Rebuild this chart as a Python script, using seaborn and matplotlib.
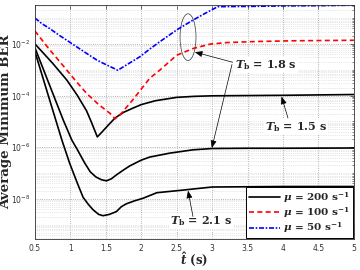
import numpy as np
import pandas as pd
import matplotlib
matplotlib.use("Agg")
import matplotlib.pyplot as plt
import seaborn as sns
from matplotlib.patches import Ellipse
from matplotlib.ticker import FixedLocator, LogLocator, NullFormatter, FuncFormatter

# ---- data (log10 of average minimum BER) ----
t_mu200_tb15 = [0.5, 0.75, 0.95, 1.1, 1.23, 1.3, 1.38, 1.45, 1.55, 1.63, 1.75, 1.88, 2.0, 2.2, 2.5, 2.75, 3.0, 3.5, 4.0, 5.0]
lg_mu200_tb15 = [-2.0, -2.75, -3.4, -4.0, -4.6, -5.05, -5.6, -5.4, -5.1, -4.87, -4.65, -4.49, -4.35, -4.2, -4.07, -4.03, -4.01, -4.0, -3.99, -3.96]

t_mu200_tb18 = [0.5, 0.7, 0.9, 1.02, 1.1, 1.2, 1.28, 1.36, 1.44, 1.51, 1.58, 1.65, 1.75, 1.84, 2.0, 2.12, 2.4, 2.73, 3.0, 3.5, 4.0, 5.0]
lg_mu200_tb18 = [-2.15, -3.55, -4.95, -5.72, -6.1, -6.6, -6.95, -7.15, -7.26, -7.30, -7.22, -7.07, -6.88, -6.72, -6.5, -6.38, -6.23, -6.1, -6.05, -6.04, -6.04, -6.03]

t_mu200_tb21 = [0.5, 0.7, 0.88, 0.99, 1.1, 1.18, 1.25, 1.32, 1.4, 1.46, 1.55, 1.65, 1.72, 1.79, 1.9, 2.03, 2.22, 2.55, 3.0, 3.5, 4.0, 5.0]
lg_mu200_tb21 = [-2.3, -4.1, -5.72, -6.62, -7.4, -7.94, -8.2, -8.42, -8.6, -8.65, -8.6, -8.49, -8.3, -8.19, -8.08, -7.97, -7.76, -7.67, -7.54, -7.53, -7.52, -7.52]

t_mu100 = [0.5, 0.7, 0.9, 1.05, 1.23, 1.4, 1.56, 1.63, 1.7, 1.88, 2.0, 2.12, 2.26, 2.5, 2.73, 2.97, 3.2, 3.6, 4.14, 5.0]
lg_mu100 = [-1.5, -2.2, -2.85, -3.35, -3.92, -4.35, -4.69, -4.9, -4.75, -4.17, -3.75, -3.33, -3.02, -2.44, -2.18, -2.01, -1.95, -1.91, -1.88, -1.86]

t_mu50 = [0.5, 0.6, 0.71, 0.85, 1.0, 1.12, 1.23, 1.37, 1.5, 1.67, 1.8, 1.98, 2.12, 2.26, 2.5, 2.73, 2.9, 3.08, 3.5, 4.0, 4.5, 5.0]
lg_mu50 = [-1.0, -1.22, -1.41, -1.68, -1.95, -2.17, -2.37, -2.62, -2.8, -3.02, -2.8, -2.5, -2.2, -1.92, -1.46, -1.08, -0.82, -0.56, -0.55, -0.53, -0.52, -0.5]

x_ticks = [0.5, 1, 1.5, 2, 2.5, 3, 3.5, 4, 4.5, 5]
x_tick_labels = ["0.5", "1", "1.5", "2", "2.5", "3", "3.5", "4", "4.5", "5"]
y_ticks_exp = [-8, -6, -4, -2]

legend_labels = [r"$\mu$ = 200 s$^{-1}$",
                 r"$\mu$ = 100 s$^{-1}$",
                 r"$\mu$ = 50 s$^{-1}$"]

def frame(t, lg, series, group):
    return pd.DataFrame({"t": t, "ber": np.power(10.0, lg), "series": series, "group": group})

df = pd.concat([
    frame(t_mu200_tb15, lg_mu200_tb15, "mu200", "a"),
    frame(t_mu200_tb18, lg_mu200_tb18, "mu200", "b"),
    frame(t_mu200_tb21, lg_mu200_tb21, "mu200", "c"),
    frame(t_mu100, lg_mu100, "mu100", "d"),
    frame(t_mu50, lg_mu50, "mu50", "e"),
], ignore_index=True)

sns.set_style("white")
plt.rcParams["font.family"] = ["DejaVu Sans"]
plt.rcParams["mathtext.fontset"] = "custom"
plt.rcParams["mathtext.rm"] = "DejaVu Serif:bold"
plt.rcParams["mathtext.bf"] = "DejaVu Serif:bold"
plt.rcParams["mathtext.it"] = "DejaVu Serif:italic:bold"

SERIF = dict(family="DejaVu Serif", weight="bold")

fig = plt.figure(figsize=(3.6, 2.7), dpi=100)
ax = fig.add_axes([0.097, 0.115, 0.886, 0.866])

styles = {"mu200": ("black", "-"), "mu100": ("#ff0000", (0, (3, 2))), "mu50": ("#0000ff", (0, (3, 1, 1, 1)))}
handles = {}
for g, sub in df.groupby("group", sort=True):
    s = sub["series"].iloc[0]
    col, ls = styles[s]
    sns.lineplot(data=sub, x="t", y="ber", ax=ax, color=col, lw=1.2, estimator=None, sort=False)
    ax.lines[-1].set_linestyle(ls)
    handles.setdefault(s, ax.lines[-1])

ax.set_yscale("log")
ax.set_xlim(0.5, 5)
ax.set_ylim(10 ** -9.55, 10 ** -0.5)

ax.xaxis.set_major_locator(FixedLocator(x_ticks))
ax.set_xticklabels(x_tick_labels)
ax.yaxis.set_major_locator(FixedLocator([10.0 ** e for e in y_ticks_exp]))
ax.yaxis.set_major_formatter(FuncFormatter(lambda v, p: r"$\mathregular{10^{%d}}$" % round(np.log10(v))))
ax.yaxis.set_minor_locator(LogLocator(base=10, subs=np.arange(1, 10), numticks=30))
ax.yaxis.set_minor_formatter(NullFormatter())

ax.tick_params(axis="both", which="both", direction="in", top=True, right=True,
               labelsize=5.5, labelcolor="#333333", color="#333333")
ax.tick_params(which="major", length=3, width=0.5)
ax.tick_params(which="minor", length=1.5, width=0.4)

ax.grid(True, which="major", axis="both", linestyle=":", color="#9a9a9a", lw=0.6)
ax.grid(True, which="minor", axis="y", linestyle=":", color="#d0d0d0", lw=0.5)
for sp in ax.spines.values():
    sp.set_linewidth(0.6)
    sp.set_color("#333333")

ax.set_xlabel(r"$\hat{t}$ (s)", fontsize=8.5, labelpad=-1, **SERIF)
ax.set_ylabel("Average Minimum BER", fontsize=9.6, **SERIF)
ax.yaxis.set_label_coords(-0.072, 0.5)

leg = ax.legend([handles["mu200"], handles["mu100"], handles["mu50"]], legend_labels,
                loc="lower right", frameon=True, fancybox=False,
                prop=dict(family="DejaVu Serif", weight="bold", size=7.5),
                edgecolor="black", framealpha=1, borderaxespad=0.05, handlelength=3.0,
                handletextpad=0.3, labelspacing=0.05, borderpad=0.3)
leg.get_frame().set_linewidth(0.7)

# annotations
arrow = dict(arrowstyle="-|>,head_length=0.45,head_width=0.18", color="black", lw=0.5, shrinkA=0, shrinkB=0)
bbox = dict(boxstyle="square,pad=0.1", fc="white", ec="none")
ax.text(3.76, 10 ** -2.82, r"$T_{\mathrm{b}}$ = 1.8 s", fontsize=8, ha="center", va="center", bbox=bbox, **SERIF)
ax.annotate("", xy=(2.757, 10 ** -2.32), xytext=(3.29, 10 ** -2.71), arrowprops=arrow)
ax.annotate("", xy=(2.996, 10 ** -6.03), xytext=(3.28, 10 ** -2.8), arrowprops=arrow)
ax.text(4.18, 10 ** -5.21, r"$T_{\mathrm{b}}$ = 1.5 s", fontsize=8, ha="center", va="center", bbox=bbox, **SERIF)
ax.annotate("", xy=(3.98, 10 ** -4.04), xytext=(4.07, 10 ** -4.87), arrowprops=arrow)
ax.text(2.84, 10 ** -8.85, r"$T_{\mathrm{b}}$ = 2.1 s", fontsize=8, ha="center", va="center", bbox=bbox, **SERIF)
ax.annotate("", xy=(2.66, 10 ** -7.68), xytext=(2.73, 10 ** -8.68), arrowprops=arrow)

ell = Ellipse((0.48, 0.863), 0.05, 0.2, transform=ax.transAxes, fill=False, ec="#333333", lw=0.5)
ax.add_patch(ell)

fig.savefig("out.png", dpi=100)
